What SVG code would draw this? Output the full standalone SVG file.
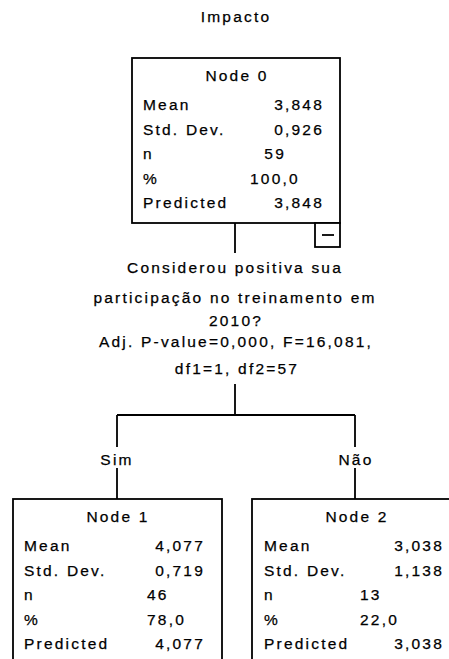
<svg xmlns="http://www.w3.org/2000/svg" width="449" height="659" viewBox="0 0 449 659">
<style>
text{font-family:"Liberation Sans",Arial,sans-serif;font-size:15.5px;letter-spacing:2.2px;fill:#000;stroke:#000;stroke-width:0.25}
.m{text-anchor:middle}
.e{text-anchor:end}
.box{fill:#fff;stroke:#000;stroke-width:1.8}
.ln{fill:none;stroke:#000;stroke-width:1.8}
</style>
<rect width="449" height="659" fill="#fff"/>
<text class="m" x="236" y="22">Impacto</text>
<g id="connectors">
<path class="ln" d="M235 223V253M235 384V415M117 415H355M117 415V447M117 468V499M355 415V447M355 468V499"/>
</g>
<g id="node0">
<rect class="box" x="132" y="58" width="208" height="165"/>
<text class="m" x="237" y="81">Node 0</text>
<text x="143" y="110">Mean</text><text class="e" x="324" y="110">3,848</text>
<text x="143" y="134.5">Std. Dev.</text><text class="e" x="324" y="134.5">0,926</text>
<text x="143" y="159">n</text><text class="e" x="286" y="159">59</text>
<text x="143" y="183.5">%</text><text x="250" y="183.5">100,0</text>
<text x="143" y="208">Predicted</text><text class="e" x="324" y="208">3,848</text>
<rect class="box" x="315" y="223" width="25" height="24"/>
<path class="ln" d="M322 235H334"/>
</g>
<g id="split">
<text class="m" x="235" y="273">Considerou positiva sua</text>
<text class="m" x="235" y="303">participação no treinamento em</text>
<text class="m" x="236" y="326">2010?</text>
<text class="m" x="236" y="347">Adj. P-value=0,000, F=16,081,</text>
<text class="m" x="237" y="374">df1=1, df2=57</text>
</g>
<g id="labels">
<text class="m" x="117" y="465">Sim</text>
<text class="m" x="356" y="465">Não</text>
</g>
<g id="node1">
<rect class="box" x="13" y="499" width="209" height="170"/>
<text class="m" x="118" y="522">Node 1</text>
<text x="24" y="551">Mean</text><text class="e" x="205" y="551">4,077</text>
<text x="24" y="575.5">Std. Dev.</text><text class="e" x="205" y="575.5">0,719</text>
<text x="24" y="600">n</text><text x="147" y="600">46</text>
<text x="24" y="624.5">%</text><text x="147" y="624.5">78,0</text>
<text x="24" y="649">Predicted</text><text class="e" x="205" y="649">4,077</text>
</g>
<g id="node2">
<rect class="box" x="252" y="499" width="209" height="170"/>
<text class="m" x="357" y="522">Node 2</text>
<text x="264" y="551">Mean</text><text class="e" x="444" y="551">3,038</text>
<text x="264" y="575.5">Std. Dev.</text><text class="e" x="444" y="575.5">1,138</text>
<text x="264" y="600">n</text><text x="360" y="600">13</text>
<text x="264" y="624.5">%</text><text x="360" y="624.5">22,0</text>
<text x="264" y="649">Predicted</text><text class="e" x="444" y="649">3,038</text>
</g>
</svg>
